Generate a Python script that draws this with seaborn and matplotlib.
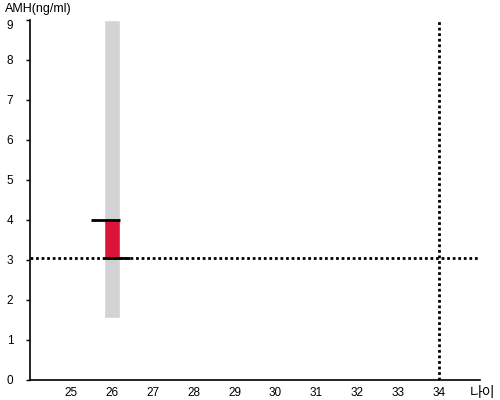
import matplotlib
matplotlib.use('Agg')
import matplotlib.pyplot as plt
import seaborn as sns

# data
age = 26
range_low, range_high = 1.55, 9.0
user_low, user_high = 3.05, 4.0
user_age = 34
user_amh = 3.05
x_ticks = [25, 26, 27, 28, 29, 30, 31, 32, 33, 34]
y_ticks = [0, 1, 2, 3, 4, 5, 6, 7, 8, 9]

sns.set_style('white')
plt.rcParams['font.family'] = ['Liberation Sans', 'Noto Sans CJK KR', 'DejaVu Sans']
plt.rcParams['text.color'] = 'black'
plt.rcParams['xtick.color'] = 'black'
plt.rcParams['ytick.color'] = 'black'

fig = plt.figure(figsize=(5, 4), dpi=100)
ax = fig.add_axes([0.06, 0.05, 0.9, 0.9])

ax.bar(age, range_high - range_low, bottom=range_low, width=0.4, color='#d3d3d3', zorder=1)
ax.bar(age, user_high - user_low, bottom=user_low, width=0.4, color='#dc143c', zorder=2)
ax.hlines(user_high, age - 0.52, age + 0.2, color='black', lw=2, zorder=3)
ax.hlines(user_low, age - 0.2, age + 0.45, color='black', lw=2, zorder=3)

ax.axhline(user_amh, color='black', lw=2, linestyle=(0, (1, 1)), zorder=4)
ax.axvline(user_age, color='black', lw=2, linestyle=(0, (1, 1)), zorder=4)

ax.set_xlim(24, 35)
ax.set_ylim(0, 9)
ax.set_xticks(x_ticks)
ax.set_yticks(y_ticks)
ax.tick_params(axis='x', length=0, labelsize=8.5, pad=5, labelcolor='black')
ax.tick_params(axis='y', length=3, width=1, labelsize=8.5, left=True, pad=9, labelcolor='black')
for lbl in ax.get_yticklabels():
    if lbl.get_text() == '9':
        lbl.set_va('top')
sns.despine(ax=ax)
for s in ['left', 'bottom']:
    ax.spines[s].set_color('black')
    ax.spines[s].set_linewidth(1.2)

fig.text(0.01, 0.992, 'AMH(ng/ml)', fontsize=9, va='top', ha='left')
fig.text(0.99, 0.035, '나이', fontsize=10, va='top', ha='right')

fig.savefig('out.png', dpi=100)
